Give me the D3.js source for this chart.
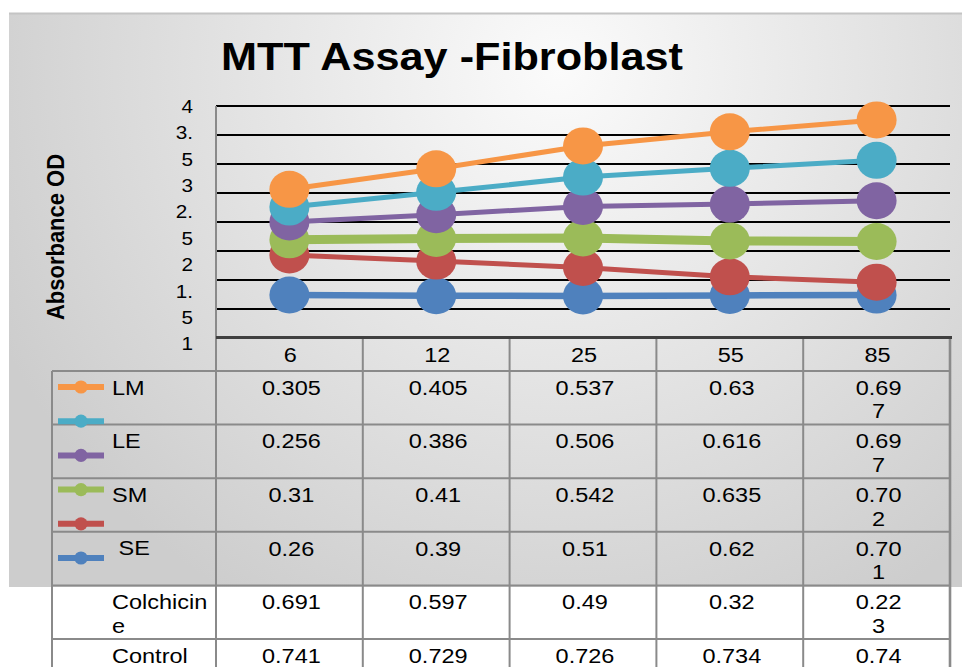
<!DOCTYPE html>
<html>
<head>
<meta charset="utf-8">
<script src="https://cdnjs.cloudflare.com/ajax/libs/d3/7.8.5/d3.min.js"></script>
<style>
  body { margin: 0; background: #fff; }
  text { font-family: "Liberation Sans", Arial, sans-serif; white-space: pre; }
</style>
</head>
<body>
<svg id="chart"></svg>
<script>
var categories = ["6", "12", "25", "55", "85"];
var LM = [0.305, 0.405, 0.537, 0.63, 0.697];
var LE = [0.256, 0.386, 0.506, 0.616, 0.697];
var SM = [0.31, 0.41, 0.542, 0.635, 0.702];
var SE = [0.26, 0.39, 0.51, 0.62, 0.701];
var Colchicine = [0.691, 0.597, 0.49, 0.32, 0.223];
var Control = [0.741, 0.729, 0.726, 0.734, 0.74];

var seriesKeys = ["LM", "LE", "SM", "SE", "Colchicine", "Control"];
var rowLabels = ["LM", "LE", "SM", " SE", "Colchicine", "Control"];
var seriesColors = ["#F79646", "#4BACC6", "#8064A2", "#9BBB59", "#C0504D", "#4F81BD"];
var lineWidths = [5, 5, 5, 9, 5, 6.5];
var titleText = "MTT Assay -Fibroblast";
var yTitle = "Absorbance OD";

var W = 962, H = 667;
var sx = 1.12; // the picture is stretched sideways a bit

var svg = d3.select("#chart").attr("width", W).attr("height", H);

// background
var defs = svg.append("defs");
var grad = defs.append("radialGradient").attr("id", "bg")
    .attr("gradientUnits", "userSpaceOnUse")
    .attr("cx", 560).attr("cy", 70).attr("r", 620);
grad.append("stop").attr("offset", "0").attr("stop-color", "#fbfbfb");
grad.append("stop").attr("offset", "1").attr("stop-color", "#cdcdcd");

svg.append("rect").attr("x", 9).attr("y", 13).attr("width", W - 9).attr("height", 574)
    .attr("fill", "url(#bg)");
svg.append("line").attr("x1", 9).attr("x2", W).attr("y1", 13.5).attr("y2", 13.5)
    .attr("stroke", "#c4c4c4").attr("stroke-width", 2);

function stretchText(g, x, y, str, anchor, size, weight) {
    return g.append("text")
        .attr("transform", "translate(" + x + "," + y + ") scale(" + sx + ",1)")
        .attr("text-anchor", anchor)
        .attr("font-size", size)
        .attr("font-weight", weight || "normal")
        .attr("fill", "#000")
        .text(str);
}

// title
stretchText(svg, 452, 70, titleText, "middle", 38.6, "bold");

// y axis title
svg.append("text")
    .attr("transform", "translate(64,237) scale(" + sx + ",1) rotate(-90)")
    .attr("text-anchor", "middle")
    .attr("font-size", 22)
    .attr("font-weight", "bold")
    .text(yTitle);

// scales
var x = d3.scaleBand().domain(categories).range([216, 950]);
var y = d3.scaleLinear().domain([0, 4]).range([338, 106]);
var cx = function(c) { return x(c) + x.bandwidth() / 2; };

// stacked data, Control at the bottom
var rows = categories.map(function(c, i) {
    return {cat: c, LM: LM[i], LE: LE[i], SM: SM[i], SE: SE[i], Colchicine: Colchicine[i], Control: Control[i]};
});
var stackKeys = seriesKeys.slice().reverse();
var stacked = d3.stack().keys(stackKeys)(rows);

// gridlines
var ticks = y.ticks(8).filter(function(t) { return t > 0; });
svg.append("g").selectAll("line").data(ticks).enter().append("line")
    .attr("x1", 216).attr("x2", 950)
    .attr("y1", function(d) { return y(d); })
    .attr("y2", function(d) { return y(d); })
    .attr("stroke", "#000").attr("stroke-width", 1.8);

// left axis line
svg.append("line").attr("x1", 216).attr("x2", 216).attr("y1", y(4)).attr("y2", H)
    .attr("stroke", "#8a8a8a").attr("stroke-width", 2);

// y tick labels, wrapped and spilling downwards as in the original
var labelLines = [];
ticks.filter(function(t) { return t >= 1; }).reverse().forEach(function(t) {
    var s = String(t);
    if (s.length > 2) { labelLines.push(s.slice(0, 2)); labelLines.push(s.slice(2)); }
    else labelLines.push(s);
});
labelLines.forEach(function(s, i) {
    stretchText(svg, 193, 112.7 + i * 26.4, s, "end", 18.5);
});

// data table
var tableTop = 338, headTop = 371, rowH = 53.6;
var rowTop = function(i) { return headTop + i * rowH; };
var tableLines = svg.append("g").attr("stroke", "#8a8a8a").attr("stroke-width", 2);

svg.insert("rect", "g").attr("x", 52).attr("y", 587).attr("width", 898).attr("height", H - 587)
    .attr("fill", "#fff");

var colEdges = categories.map(function(c) { return x(c); }).concat([950]);
colEdges.forEach(function(e, i) {
    tableLines.append("line").attr("x1", e).attr("x2", e).attr("y1", tableTop).attr("y2", H)
        .attr("stroke-width", i === colEdges.length - 1 ? 2.6 : 2);
});
tableLines.append("line").attr("x1", 52).attr("x2", 52).attr("y1", headTop).attr("y2", H);
seriesKeys.forEach(function(k, i) {
    tableLines.append("line").attr("x1", 52).attr("x2", 950)
        .attr("y1", rowTop(i)).attr("y2", rowTop(i));
});

// bottom axis
svg.append("line").attr("x1", 216).attr("x2", 952).attr("y1", 337.5).attr("y2", 337.5)
    .attr("stroke", "#404040").attr("stroke-width", 3);

// category labels in header row
categories.forEach(function(c) {
    stretchText(svg, cx(c) + 1, 361.5, c, "middle", 21);
});

function wrap(s, n) {
    var out = [];
    for (var i = 0; i < s.length; i += n) out.push(s.slice(i, i + n));
    return out;
}

var valueArrays = [LM, LE, SM, SE, Colchicine, Control];
var colLimit = [5, 5, 5, 5, 4];
valueArrays.forEach(function(vals, r) {
    var top = rowTop(r);
    wrap(rowLabels[r], 9).forEach(function(s, j) {
        stretchText(svg, 112, top + 23.5 + j * 23.6, s, "start", 21);
    });
    vals.forEach(function(v, ci) {
        wrap(String(v), colLimit[ci]).forEach(function(s, j) {
            stretchText(svg, cx(categories[ci]) + 2, top + 23.8 + j * 23.6, s, "middle", 21);
        });
    });
});

// legend keys in the table's first column
seriesKeys.forEach(function(k, i) {
    var ly = 387 + i * 34.2;
    svg.append("line").attr("x1", 58).attr("x2", 104).attr("y1", ly).attr("y2", ly)
        .attr("stroke", seriesColors[i]).attr("stroke-width", 6);
    svg.append("circle").attr("cx", 81).attr("cy", ly).attr("r", 6.6)
        .attr("fill", seriesColors[i]);
});

// stacked lines with markers, bottom series first
var line = d3.line()
    .x(function(d) { return cx(d.data.cat); })
    .y(function(d) { return y(d[1]); });

stacked.forEach(function(layer) {
    var idx = seriesKeys.indexOf(layer.key);
    var g = svg.append("g");
    g.append("path").datum(layer).attr("d", line)
        .attr("fill", "none").attr("stroke", seriesColors[idx])
        .attr("stroke-width", lineWidths[idx]);
    g.selectAll("ellipse").data(layer).enter().append("ellipse")
        .attr("cx", function(d) { return cx(d.data.cat); })
        .attr("cy", function(d) { return y(d[1]); })
        .attr("rx", 20).attr("ry", 18.5)
        .attr("fill", seriesColors[idx]);
});
</script>
</body>
</html>
